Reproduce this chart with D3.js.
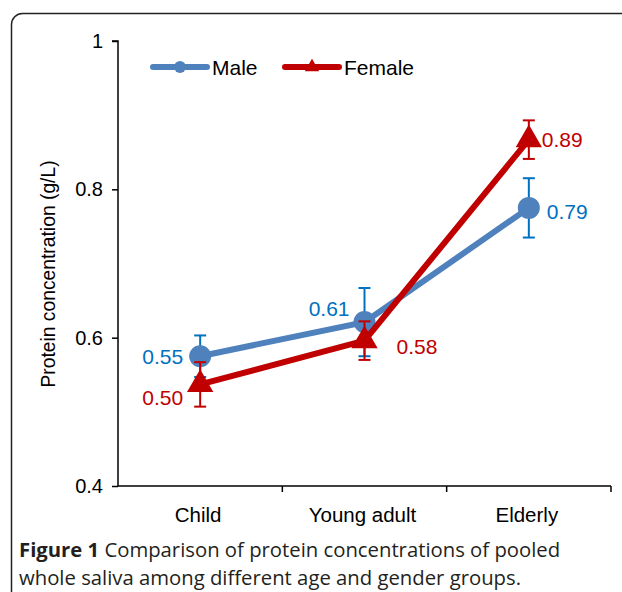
<!DOCTYPE html>
<html>
<head>
<meta charset="utf-8">
<script src="https://cdn.jsdelivr.net/npm/d3@7"></script>
<style>
  body { margin: 0; background: #fff; }
  svg { display: block; }
</style>
</head>
<body>
<svg id="chart"></svg>
<script>
const categories = ['Child', 'Young adult', 'Elderly'];
const maleValues = [0.575, 0.621, 0.775];
const maleErrors = [0.028, 0.046, 0.04];
const maleLabels = ['0.55', '0.61', '0.79'];
const femaleValues = [0.537, 0.596, 0.867];
const femaleErrors = [0.03, 0.026, 0.026];
const femaleLabels = ['0.50', '0.58', '0.89'];
const yTicks = [0.4, 0.6, 0.8, 1];

const width = 622;
const height = 592;
const blue = '#4f81bd';
const blueText = '#0070c0';
const red = '#c00000';
const font = 'Liberation Sans, Arial, sans-serif';

const svg = d3.select('#chart')
  .attr('width', width)
  .attr('height', height);

// frame with rounded corner, runs off the right and bottom edges
svg.append('rect')
  .attr('x', 11.5)
  .attr('y', 13.5)
  .attr('width', 700)
  .attr('height', 700)
  .attr('rx', 11)
  .attr('fill', 'none')
  .attr('stroke', '#222')
  .attr('stroke-width', 1.5);

let x = d3.scaleBand()
  .domain(categories)
  .range([118, 611]);

let y = d3.scaleLinear()
  .domain([0.4, 1])
  .range([486, 41]);

const g = svg.append('g');

// y axis
const yAxis = g.append('g')
  .attr('transform', 'translate(118,0)')
  .call(d3.axisLeft(y).tickValues(yTicks).tickSize(6).tickPadding(9)
    .tickFormat(d => d === 1 ? '1' : d3.format('.1f')(d)));
yAxis.select('.domain').attr('stroke', '#000').attr('stroke-width', 1.5)
  .attr('d', 'M-6,' + y(1) + 'H0V' + y(0.4));
yAxis.selectAll('.tick line').attr('stroke', '#000').attr('stroke-width', 1.5);
yAxis.selectAll('.tick text')
  .attr('font-family', font)
  .attr('font-size', 20)
  .attr('fill', '#000');

// x axis
const xAxis = g.append('g')
  .attr('transform', 'translate(0,486)');
xAxis.append('line')
  .attr('x1', 118).attr('x2', 611)
  .attr('stroke', '#000').attr('stroke-width', 1.5);
xAxis.selectAll('.xtick')
  .data(categories)
  .enter()
  .append('line')
  .attr('x1', d => x(d) + x.bandwidth())
  .attr('x2', d => x(d) + x.bandwidth())
  .attr('y1', 0).attr('y2', 6)
  .attr('stroke', '#000').attr('stroke-width', 1.5);
xAxis.selectAll('.xlabel')
  .data(categories)
  .enter()
  .append('text')
  .attr('x', d => x(d) + x.bandwidth() / 2 - 2)
  .attr('y', 36)
  .attr('text-anchor', 'middle')
  .attr('font-family', font)
  .attr('font-size', 20.5)
  .text(d => d);

// y title
g.append('text')
  .attr('transform', 'translate(55,274) rotate(-90)')
  .attr('text-anchor', 'middle')
  .attr('font-family', font)
  .attr('font-size', 19.3)
  .text('Protein concentration (g/L)');

const cx = d => x(d) + x.bandwidth() / 2;

function drawSeries (values, errors, colour, barColour, marker) {
  const data = categories.map((c, i) => ({ c: c, v: values[i], e: errors[i] }));
  const s = g.append('g');

  const eb = s.selectAll('.err').data(data).enter().append('g');
  eb.append('line')
    .attr('x1', d => cx(d.c)).attr('x2', d => cx(d.c))
    .attr('y1', d => y(d.v + d.e)).attr('y2', d => y(d.v - d.e));
  eb.append('line')
    .attr('x1', d => cx(d.c) - 6).attr('x2', d => cx(d.c) + 6)
    .attr('y1', d => y(d.v + d.e)).attr('y2', d => y(d.v + d.e));
  eb.append('line')
    .attr('x1', d => cx(d.c) - 6).attr('x2', d => cx(d.c) + 6)
    .attr('y1', d => y(d.v - d.e)).attr('y2', d => y(d.v - d.e));
  eb.selectAll('line').attr('stroke', barColour).attr('stroke-width', 2);

  s.append('path')
    .datum(data)
    .attr('fill', 'none')
    .attr('stroke', colour)
    .attr('stroke-width', 6)
    .attr('d', d3.line().x(d => cx(d.c)).y(d => y(d.v)));

  s.selectAll('.mk').data(data).enter()
    .append('path')
    .attr('transform', d => 'translate(' + cx(d.c) + ',' + y(d.v) + ')')
    .attr('d', d3.symbol().type(marker).size(marker === d3.symbolCircle ? 380 : 300))
    .attr('fill', colour);
}

drawSeries(maleValues, maleErrors, blue, blueText, d3.symbolCircle);
drawSeries(femaleValues, femaleErrors, red, red, d3.symbolTriangle);

// value labels
const maleLabelPos = [[-17, 8, 'end'], [-15, -6, 'end'], [18, 11, 'start']];
const femaleLabelPos = [[-17, 21, 'end'], [32, 13, 'start'], [13, 7, 'start']];
g.selectAll('.ml').data(categories).enter().append('text')
  .attr('x', (d, i) => cx(d) + maleLabelPos[i][0])
  .attr('y', (d, i) => y(maleValues[i]) + maleLabelPos[i][1])
  .attr('text-anchor', (d, i) => maleLabelPos[i][2])
  .attr('font-family', font).attr('font-size', 21)
  .attr('fill', blueText)
  .text((d, i) => maleLabels[i]);
g.selectAll('.fl').data(categories).enter().append('text')
  .attr('x', (d, i) => cx(d) + femaleLabelPos[i][0])
  .attr('y', (d, i) => y(femaleValues[i]) + femaleLabelPos[i][1])
  .attr('text-anchor', (d, i) => femaleLabelPos[i][2])
  .attr('font-family', font).attr('font-size', 21)
  .attr('fill', red)
  .text((d, i) => femaleLabels[i]);

// legend
const legend = g.append('g');
const legendItems = [
  { name: 'Male', colour: blue, marker: d3.symbolCircle, x: 153, size: 110 },
  { name: 'Female', colour: red, marker: d3.symbolTriangle, x: 285, size: 90 }
];
const li = legend.selectAll('g').data(legendItems).enter().append('g')
  .attr('transform', d => 'translate(' + d.x + ',67)');
li.append('line')
  .attr('x1', 0).attr('x2', 54)
  .attr('stroke', d => d.colour).attr('stroke-width', 6)
  .attr('stroke-linecap', 'round');
li.append('path')
  .attr('transform', 'translate(27,0)')
  .attr('d', d => d3.symbol().type(d.marker).size(d.size)())
  .attr('fill', d => d.colour);
li.append('text')
  .attr('x', 59).attr('y', 8)
  .attr('font-family', font).attr('font-size', 21)
  .text(d => d.name);

// caption
const cap = svg.append('g')
  .attr('font-family', 'Open Sans, Noto Sans, sans-serif')
  .attr('font-size', 20.3)
  .attr('fill', '#231f20');
const line1 = cap.append('text').attr('x', 19).attr('y', 557);
line1.append('tspan').attr('font-weight', 'bold').text('Figure 1');
line1.append('tspan').text(' Comparison of protein concentrations of pooled');
cap.append('text').attr('x', 19).attr('y', 585)
  .text('whole saliva among different age and gender groups.');
</script>
</body>
</html>
